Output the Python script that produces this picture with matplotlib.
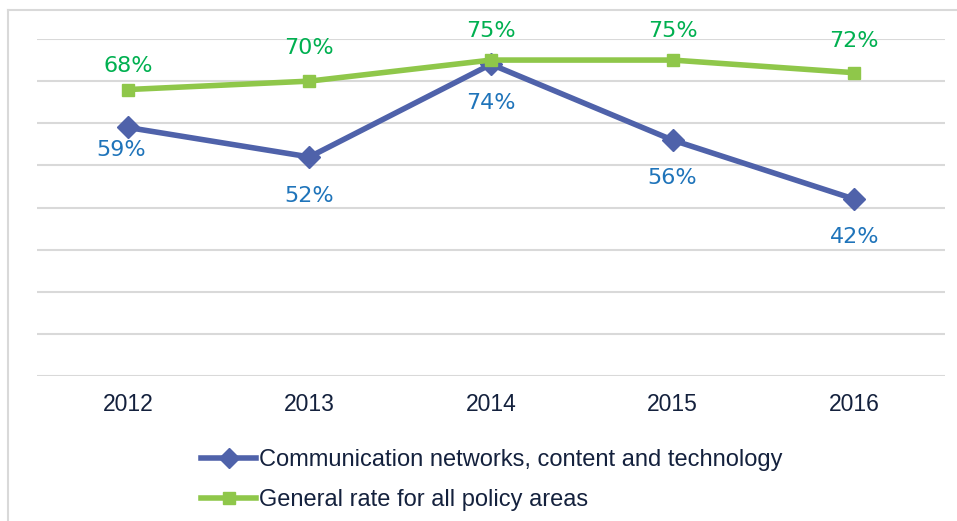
import matplotlib
matplotlib.use("Agg")
import matplotlib.pyplot as plt
from matplotlib.lines import Line2D

years = ["2012", "2013", "2014", "2015", "2016"]
comm_values = [59, 52, 74, 56, 42]
general_values = [68, 70, 75, 75, 72]
series_names = ["Communication networks, content and technology",
                "General rate for all policy areas"]

BLUE = "#4F62AA"
GREEN = "#8FC74A"
BLUE_TXT = "#1F74BA"
GREEN_TXT = "#00B050"
DARK = "#14213D"

fig = plt.figure(figsize=(9.57, 5.21), dpi=100)
ax = fig.add_axes([37/957, 1-376/521, (945-37)/957, (376-39)/521])

x = list(range(len(years)))
ax.plot(x, comm_values, color=BLUE, lw=4, marker="D", ms=11,
        markerfacecolor=BLUE, markeredgecolor=BLUE, zorder=3, solid_capstyle="round")
ax.plot(x, general_values, color=GREEN, lw=4, marker="s", ms=9,
        markerfacecolor=GREEN, markeredgecolor=GREEN, zorder=4)

ax.set_xlim(-0.5, len(years) - 0.5)
ax.set_ylim(0, 80)
ax.set_yticks(range(0, 81, 10))
ax.yaxis.grid(True, color="#D9D9D9", lw=1.5)
ax.set_axisbelow(True)
ax.tick_params(axis="y", left=False, labelleft=False)
ax.tick_params(axis="x", bottom=False, labelsize=16.5, labelcolor=DARK, pad=9)
ax.set_xticks(x)
ax.set_xticklabels(years, fontfamily="Liberation Sans")
for s in ax.spines.values():
    s.set_visible(False)

comm_off = [-16, -28, -28, -27, -27]
gen_off = [17, 24, 21, 21, 23]
lbl_font = dict(fontsize=16, fontfamily="DejaVu Sans", ha="center", va="center")
for i, v in enumerate(comm_values):
    dx = -5 if i == 0 else 0
    ax.annotate(f"{v}%", (i, v), xytext=(dx, comm_off[i]), textcoords="offset points",
                color=BLUE_TXT, **lbl_font)
for i, v in enumerate(general_values):
    ax.annotate(f"{v}%", (i, v), xytext=(0, gen_off[i]), textcoords="offset points",
                color=GREEN_TXT, **lbl_font)

handles = [Line2D([], [], color=BLUE, lw=4, marker="D", ms=10),
           Line2D([], [], color=GREEN, lw=4, marker="s", ms=8)]
fig.legend(handles, series_names, loc="upper left", bbox_to_anchor=(189/957, 1-437/521),
           frameon=False, prop={"family": "Liberation Sans", "size": 17},
           labelcolor=DARK, handlelength=2.35, handletextpad=0.1, labelspacing=0.78,
           borderpad=0)

# outer frame
fig.add_artist(Line2D([8/957, 8/957], [1-520/521, 1-10/521], color="#D9D9D9", lw=1.5,
                      transform=fig.transFigure))
fig.add_artist(Line2D([8/957, 1], [1-10/521, 1-10/521], color="#D9D9D9", lw=1.5,
                      transform=fig.transFigure))

fig.savefig("out.png", dpi=100)
